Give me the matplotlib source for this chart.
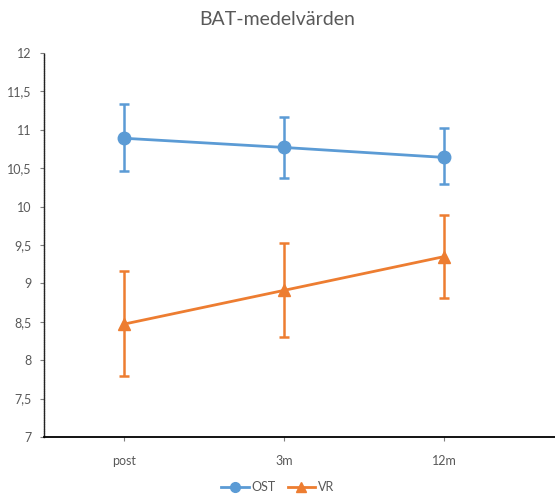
import matplotlib
matplotlib.use("Agg")
import matplotlib.pyplot as plt
from matplotlib.ticker import FuncFormatter

plt.rcParams['font.family'] = ['Lato', 'DejaVu Sans']

categories = ["post", "3m", "12m"]
ost_mean = [10.89, 10.77, 10.64]
ost_upper = [11.33, 11.17, 11.02]
ost_lower = [10.46, 10.37, 10.29]
vr_mean = [8.47, 8.91, 9.35]
vr_upper = [9.16, 9.53, 9.89]
vr_lower = [7.79, 8.30, 8.81]
y_ticks = [7, 7.5, 8, 8.5, 9, 9.5, 10, 10.5, 11, 11.5, 12]

blue = "#5B9BD5"
orange = "#ED7D31"
gray = "#595959"

fig = plt.figure(figsize=(5.55, 4.97), dpi=100)
ax = fig.add_axes([44/555, 1-437/497, 1-44/555, (437-53)/497])

x = list(range(len(categories)))

def errs(mean, lo, hi):
    return [[m - l for m, l in zip(mean, lo)], [h - m for m, h in zip(mean, hi)]]

ax.errorbar(x, ost_mean, yerr=errs(ost_mean, ost_lower, ost_upper), color=blue,
            marker="o", markersize=9, linewidth=2, elinewidth=1.8, capsize=3.5,
            capthick=1.8, label="OST", zorder=3)
ax.errorbar(x, vr_mean, yerr=errs(vr_mean, vr_lower, vr_upper), color=orange,
            marker="^", markersize=9, linewidth=2, elinewidth=1.8, capsize=3.5,
            capthick=1.8, label="VR", zorder=3)

ax.set_xlim(-0.5, 2.69)
ax.set_ylim(7, 12)
ax.set_xticks(x)
ax.set_xticklabels(categories)
ax.set_yticks(y_ticks)
ax.yaxis.set_major_formatter(FuncFormatter(lambda v, p: f"{v:g}".replace(".", ",")))

for s in ["top", "right"]:
    ax.spines[s].set_visible(False)
ax.spines["left"].set_linestyle((0, (0.8, 0.8)))
ax.spines["left"].set_color("#222222")
ax.spines["left"].set_linewidth(1.0)
ax.spines["bottom"].set_color("black")
ax.spines["bottom"].set_linewidth(1.3)

ax.tick_params(axis="both", colors=gray, labelsize=9, length=3, width=0.8, direction="out")
ax.tick_params(axis="y", pad=6, color="#7f7f7f")
ax.tick_params(axis="x", pad=10, color="#7f7f7f")

fig.suptitle("BAT-medelvärden", y=0.978, fontsize=14, color=gray)

handles, labels = ax.get_legend_handles_labels()
handles = [h[0] for h in handles]
leg = fig.legend(handles, labels, loc="center", bbox_to_anchor=(0.5, 1-487/497), ncol=2,
                 frameon=False, fontsize=9, handlelength=2.2, handletextpad=0.2,
                 columnspacing=1.0)
for t in leg.get_texts():
    t.set_color(gray)
for h in leg.legend_handles:
    h.set_markersize(7)

fig.savefig("out.png", dpi=100)
